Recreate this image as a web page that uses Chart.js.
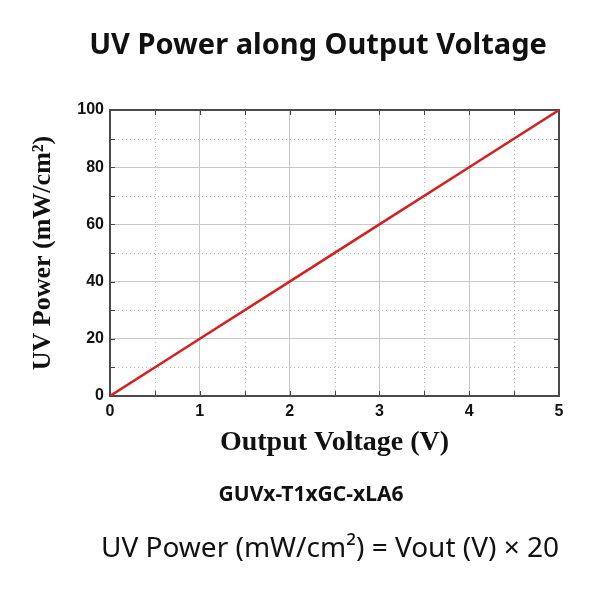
<!DOCTYPE html>
<html>
<head>
<meta charset="utf-8">
<script src="https://cdn.jsdelivr.net/npm/chart.js@4.4.1/dist/chart.umd.min.js"></script>
<style>
  body { margin: 0; background: #fff; }
  #wrap { position: relative; width: 600px; height: 600px; }
  #chart { position: absolute; left: 0; top: 0; }
  .note { position: absolute; left: 0; width: 600px; text-align: center; color: #111; font-family: "Noto Sans", sans-serif; white-space: nowrap; }
  #title { top: 23px; left: 18px; font-size: 29px; font-weight: bold; }
  #model { top: 479px; left: 11px; font-size: 21px; font-weight: bold; }
  #formula { top: 527px; left: 30px; font-size: 28px; }
</style>
</head>
<body>
<div id="wrap">
  <canvas id="chart" width="600" height="600"></canvas>
  <div class="note" id="title">UV Power along Output Voltage</div>
  <div class="note" id="model">GUVx-T1xGC-xLA6</div>
  <div class="note" id="formula">UV Power (mW/cm²) = Vout (V) × 20</div>
</div>
<script>
// data
const voltage = [0, 1, 2, 3, 4, 5];
const uvPower = [0, 20, 40, 60, 80, 100];
const xTicks = [0, 1, 2, 3, 4, 5];
const yTicks = [0, 20, 40, 60, 80, 100];

// dotted minor grid, inward ticks on all sides, full frame
const framePlugin = {
  id: "frame",
  beforeDatasetsDraw(chart) {
    const { ctx, chartArea: a, scales } = chart;
    const xs = scales.x, ys = scales.y;
    ctx.save();
    // minor dotted grid
    ctx.strokeStyle = "#b8b8b8";
    ctx.lineWidth = 1;
    ctx.setLineDash([1, 3]);
    for (let i = 0; i < xTicks.length - 1; i++) {
      const px = Math.round(xs.getPixelForValue((xTicks[i] + xTicks[i + 1]) / 2)) + 0.5;
      ctx.beginPath(); ctx.moveTo(px, a.top); ctx.lineTo(px, a.bottom); ctx.stroke();
    }
    for (let i = 0; i < yTicks.length - 1; i++) {
      const py = Math.round(ys.getPixelForValue((yTicks[i] + yTicks[i + 1]) / 2)) + 0.5;
      ctx.beginPath(); ctx.moveTo(a.left, py); ctx.lineTo(a.right, py); ctx.stroke();
    }
    ctx.setLineDash([]);
    // inward ticks
    ctx.strokeStyle = "#444";
    const xVals = [], yVals = [];
    xTicks.forEach((v, i) => { xVals.push(v); if (i < xTicks.length - 1) xVals.push((v + xTicks[i + 1]) / 2); });
    yTicks.forEach((v, i) => { yVals.push(v); if (i < yTicks.length - 1) yVals.push((v + yTicks[i + 1]) / 2); });
    xVals.forEach(v => {
      const px = Math.round(xs.getPixelForValue(v)) + 0.5;
      ctx.beginPath();
      ctx.moveTo(px, a.bottom); ctx.lineTo(px, a.bottom - 5);
      ctx.moveTo(px, a.top); ctx.lineTo(px, a.top + 5);
      ctx.stroke();
    });
    yVals.forEach(v => {
      const py = Math.round(ys.getPixelForValue(v)) + 0.5;
      ctx.beginPath();
      ctx.moveTo(a.left, py); ctx.lineTo(a.left + 5, py);
      ctx.moveTo(a.right, py); ctx.lineTo(a.right - 5, py);
      ctx.stroke();
    });
    // frame
    ctx.strokeStyle = "#4a4a4a";
    ctx.lineWidth = 2;
    ctx.strokeRect(a.left, a.top, a.right - a.left, a.bottom - a.top);
    ctx.restore();
  }
};

const ctx = document.getElementById("chart").getContext("2d");
const uvChart = new Chart(ctx, {
  type: "line",
  data: {
    datasets: [{
      data: voltage.map((v, i) => ({ x: v, y: uvPower[i] })),
      borderColor: "#d71f1f",
      borderWidth: 2.5,
      pointRadius: 0,
      tension: 0,
    }]
  },
  options: {
    responsive: false,
    animation: false,
    layout: { padding: { left: 0, right: 41, top: 110, bottom: 140 } },
    plugins: {
      legend: { display: false },
      tooltip: { enabled: false },
    },
    scales: {
      x: {
        type: "linear",
        min: 0, max: 5,
        afterBuildTicks: s => { s.ticks = xTicks.map(v => ({ value: v })); },
        afterFit: s => { s.height = 64; },
        grid: { color: "#c8c8c8", lineWidth: 1, drawTicks: false },
        border: { display: false },
        ticks: { color: "#111", padding: 6, font: { family: "Liberation Sans", size: 16, weight: "bold" } },
        title: {
          display: true,
          text: "Output Voltage (V)",
          color: "#111",
          font: { family: "Liberation Serif", size: 28, weight: "bold" },
          padding: { top: 6, bottom: 0 },
        },
      },
      y: {
        type: "linear",
        min: 0, max: 100,
        afterBuildTicks: s => { s.ticks = yTicks.map(v => ({ value: v })); },
        afterFit: s => { s.width = 110; },
        grid: { color: "#c8c8c8", lineWidth: 1, drawTicks: false },
        border: { display: false },
        ticks: { color: "#111", padding: 6, font: { family: "Liberation Sans", size: 16, weight: "bold" } },
        title: {
          display: true,
          text: "UV Power (mW/cm²)",
          color: "#111",
          font: { family: "Liberation Serif", size: 26, weight: "bold" },
          padding: { top: 28, bottom: 0 },
        },
      },
    },
  },
  plugins: [framePlugin],
});
</script>
</body>
</html>
